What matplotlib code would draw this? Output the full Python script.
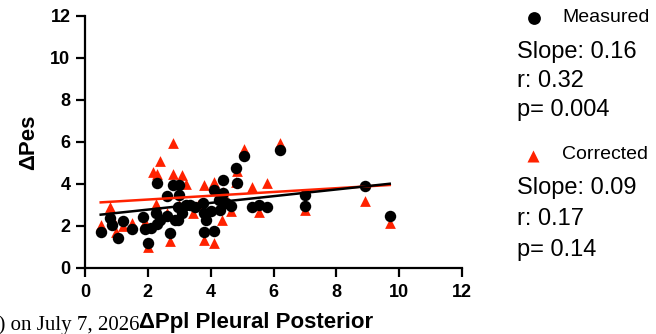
import matplotlib
matplotlib.use("Agg")
import matplotlib.pyplot as plt
import numpy as np

plt.rcParams['font.family'] = ['Liberation Sans', 'DejaVu Sans']

# measured (black circles)
meas_x = [0.5, 0.8, 0.85, 1.05, 1.2, 1.5, 1.85, 1.9, 2.0, 2.1, 2.3, 2.25, 2.3, 2.4,
          2.6, 2.6, 2.7, 2.8, 2.85, 3.0, 3.0, 2.95, 2.95, 3.1, 3.2, 3.35, 3.5, 3.75,
          3.8, 3.8, 3.85, 4.1, 4.1, 4.0, 4.4, 4.4, 4.3, 4.25, 4.5, 4.65, 4.8, 4.85,
          5.05, 5.3, 5.55, 5.8, 6.2, 7.0, 7.0, 8.9, 9.7]
meas_y = [1.7, 2.4, 2.05, 1.45, 2.25, 1.85, 2.45, 1.85, 1.2, 1.9, 4.05, 2.6, 2.1, 2.3,
          3.45, 2.5, 1.65, 3.95, 2.3, 3.95, 3.5, 2.9, 2.3, 2.6, 3.0, 3.0, 2.9, 3.1,
          2.6, 1.7, 2.3, 3.7, 1.75, 2.7, 4.2, 3.55, 2.75, 3.25, 3.1, 2.95, 4.75, 4.05,
          5.35, 2.9, 3.0, 2.9, 5.6, 3.5, 2.95, 3.9, 2.5]

# corrected (red triangles)
corr_x = [0.5, 0.8, 1.5, 2.0, 2.15, 2.3, 2.4, 2.8, 2.8, 3.1, 2.7, 2.25, 3.45, 3.8,
          3.8, 4.1, 4.1, 4.35, 4.65, 4.85, 5.05, 5.3, 5.55, 5.8, 6.2, 7.0, 8.9, 9.7,
          1.2, 1.9, 2.6, 3.0, 3.2, 3.6, 4.4, 4.8, 1.0, 0.85]
corr_y = [2.05, 2.9, 2.15, 1.0, 4.55, 4.5, 5.1, 5.95, 4.5, 4.45, 1.3, 3.05, 2.6, 3.95,
          1.35, 4.1, 1.2, 2.3, 2.7, 4.6, 5.65, 3.85, 2.65, 4.05, 5.95, 2.75, 3.2, 2.15,
          2.0, 2.2, 2.6, 3.0, 4.0, 3.0, 3.6, 4.1, 1.7, 2.4]

# regression lines: slope, intercept
meas_fit = [0.16, 2.46]
corr_fit = [0.09, 3.08]

meas_stats = ["Slope: 0.16", "r: 0.32", "p= 0.004"]
corr_stats = ["Slope: 0.09", "r: 0.17", "p= 0.14"]

red = '#ff2200'
W, H = 656, 334

fig = plt.figure(figsize=(6.56, 3.34), dpi=100)
ax = fig.add_axes([85 / W, 1 - 268 / H, 377 / W, 252 / H])

ax.scatter(corr_x, corr_y, marker='^', s=60, color=red, linewidths=0, zorder=2)
ax.scatter(meas_x, meas_y, marker='o', s=68, color='black', linewidths=0, zorder=3)

xx = np.array([min(meas_x), max(meas_x)])
ax.plot(xx, corr_fit[0] * xx + corr_fit[1], color=red, lw=1.8, zorder=4)
ax.plot(xx, meas_fit[0] * xx + meas_fit[1], color='black', lw=1.8, zorder=5)

ax.set_xlim(0, 12)
ax.set_ylim(0, 12)
ax.set_xticks(np.arange(0, 13, 2))
ax.set_yticks(np.arange(0, 13, 2))
for s in ['top', 'right']:
    ax.spines[s].set_visible(False)
for s in ['left', 'bottom']:
    ax.spines[s].set_linewidth(1.6)
ax.tick_params(width=1.6, length=6.5, labelsize=13, pad=4)
ax.tick_params(axis='x', pad=5)
for lab in ax.get_xticklabels() + ax.get_yticklabels():
    lab.set_fontweight('bold')

ax.set_xlabel('ΔPpl Pleural Posterior', fontsize=16, fontweight='bold')
ax.xaxis.set_label_coords((256 - 85) / 377, -0.175)
ax.set_ylabel('ΔPes', fontsize=16, fontweight='bold', labelpad=8)

# legend / stats block on the right
ax.scatter([534 / W], [1 - 18 / H], marker='o', s=85, color='black', linewidths=0,
           transform=fig.transFigure, clip_on=False)
fig.text(562 / W, 1 - 18 / H, 'Measured', fontsize=14, ha='left', va='center')
for i, t in enumerate(meas_stats):
    fig.text(517 / W, 1 - (52 + 29 * i) / H, t, fontsize=17, ha='left', va='center')

ax.scatter([533 / W], [1 - 156 / H], marker='^', s=75, color=red, linewidths=0,
           transform=fig.transFigure, clip_on=False)
fig.text(562 / W, 1 - 155 / H, 'Corrected', fontsize=14, ha='left', va='center')
for i, t in enumerate(corr_stats):
    fig.text(517 / W, 1 - (188 + 31 * i) / H, t, fontsize=17, ha='left', va='center')

# clipped caption fragment bottom-left
fig.text(139 / W, 1 - 325 / H, 'd) on July 7, 2026', fontsize=15,
         family=['Liberation Serif'], ha='right', va='center')

fig.savefig('out.png', dpi=100)
